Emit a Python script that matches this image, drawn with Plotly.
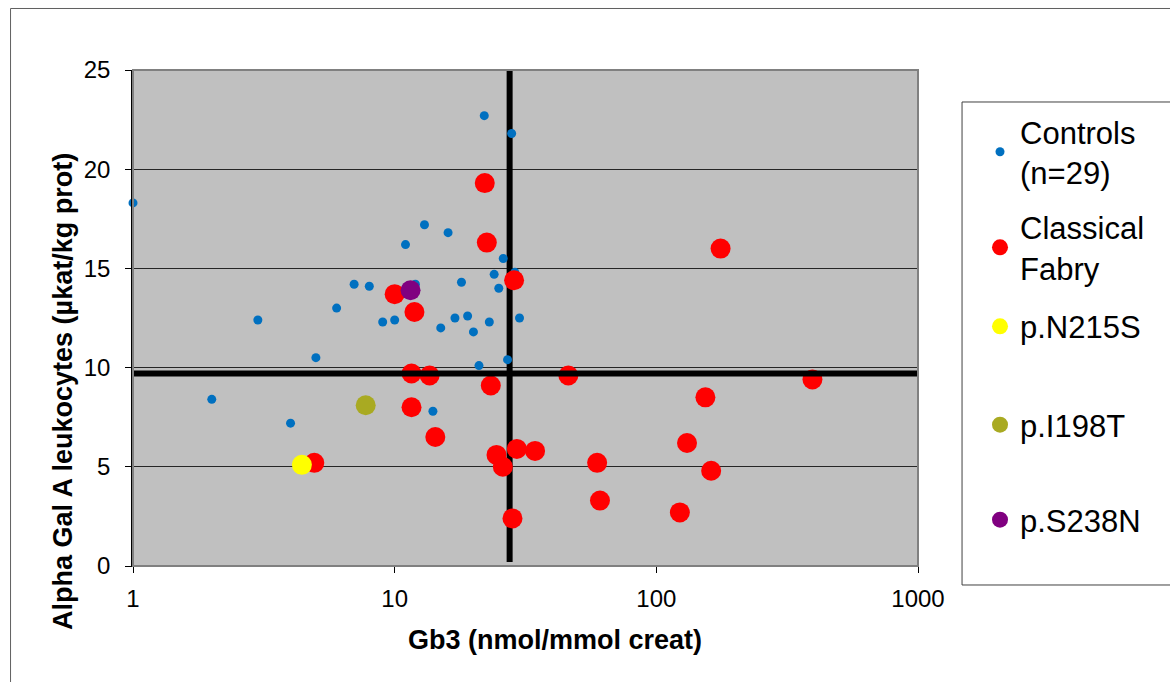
import plotly.graph_objects as go

# ---------------- data ----------------
controls_gb3 = [1, 2, 3, 4, 5, 6, 7, 8, 9, 10, 11, 12, 13, 14, 15,
                16, 17, 18, 19, 20, 21, 22, 23, 24, 25, 26, 27, 28, 28.8, 30]
controls_alpha = [18.3, 8.4, 12.4, 7.2, 10.5, 13.0, 14.2, 14.1, 12.3, 12.4, 16.2, 14.2, 17.2, 7.8, 12.0,
                  16.8, 12.5, 14.3, 12.6, 11.8, 10.1, 22.7, 12.3, 14.7, 14.0, 15.5, 10.4, 21.8, 14.8, 12.5]

fabry_gb3 = [22.1, 22.5, 28.6, 10.0, 11.9, 11.6, 13.6, 23.3, 11.6, 14.3, 4.93, 24.5, 25.9,
             29.3, 34.4, 28.2, 176, 46.1, 395, 154, 131, 162, 59.4, 60.9, 123]
fabry_alpha = [19.3, 16.3, 14.4, 13.7, 12.8, 9.7, 9.6, 9.1, 8.0, 6.5, 5.2, 5.6, 5.0,
               5.9, 5.8, 2.4, 16.0, 9.6, 9.4, 8.5, 6.2, 4.8, 5.2, 3.3, 2.7]

n215s_gb3, n215s_alpha = [4.42], [5.1]
i198t_gb3, i198t_alpha = [7.75], [8.1]
s238n_gb3, s238n_alpha = [11.5], [13.9]

cutoff_gb3 = 27.5           # vertical reference line (Gb3)
cutoff_alpha = 9.7          # horizontal reference line (alpha Gal A)
vline_y_span = [0.2, 25]
hline_x_span = [1, 1000]

x_tickvals = [1, 10, 100, 1000]
x_ticktext = ["1", "10", "100", "1000"]
y_tickvals = [0, 5, 10, 15, 20, 25]

FONT = "Liberation Sans, Arial, sans-serif"

fig = go.Figure()

# vertical cut-off line (under markers)
fig.add_trace(go.Scatter(x=[cutoff_gb3, cutoff_gb3], y=vline_y_span, mode="lines",
                         line=dict(color="black", width=6), showlegend=False, hoverinfo="skip"))

fig.add_trace(go.Scatter(x=controls_gb3, y=controls_alpha, mode="markers", name="Controls<br>(n=29)",
                         marker=dict(color="#0070C0", size=9), cliponaxis=False, legend="legend"))
fig.add_trace(go.Scatter(x=fabry_gb3, y=fabry_alpha, mode="markers", name="Classical<br>Fabry",
                         marker=dict(color="#FF0000", size=20), legend="legend2"))
fig.add_trace(go.Scatter(x=n215s_gb3, y=n215s_alpha, mode="markers", name="p.N215S",
                         marker=dict(color="#FFFF00", size=20), legend="legend3"))
fig.add_trace(go.Scatter(x=i198t_gb3, y=i198t_alpha, mode="markers", name="p.I198T",
                         marker=dict(color="#A9AA22", size=20), legend="legend4"))
fig.add_trace(go.Scatter(x=s238n_gb3, y=s238n_alpha, mode="markers", name="p.S238N",
                         marker=dict(color="#800080", size=20), legend="legend5"))

# horizontal cut-off line (over markers)
fig.add_trace(go.Scatter(x=hline_x_span, y=[cutoff_alpha, cutoff_alpha], mode="lines",
                         line=dict(color="black", width=6), showlegend=False, hoverinfo="skip"))

def leg(y):
    return dict(x=1.079, xanchor="left", y=y, yanchor="middle",
                bgcolor="rgba(0,0,0,0)", borderwidth=0,
                font=dict(family=FONT, size=31, color="black"))

fig.update_layout(
    width=1170, height=682,
    margin=dict(l=133, r=252, t=70, b=116),
    paper_bgcolor="white",
    plot_bgcolor="#C0C0C0",
    font=dict(family=FONT, color="black"),
    legend=leg(0.8347),
    legend2=leg(0.6421),
    legend3=leg(0.4825),
    legend4=leg(0.2843),
    legend5=leg(0.0927),
    xaxis=dict(type="log", range=[0, 3], tickvals=x_tickvals, ticktext=x_ticktext,
               showgrid=False, zeroline=False, showline=True, linecolor="black", linewidth=1,
               ticks="outside", ticklen=6, tickcolor="black",
               tickfont=dict(size=24, family=FONT), ticklabelstandoff=5),
    yaxis=dict(range=[0, 25], tickvals=y_tickvals, showgrid=True, gridcolor="#262626", gridwidth=1,
               zeroline=False, showline=True, linecolor="black", linewidth=1.5,
               ticks="outside", ticklen=6, tickcolor="black",
               tickfont=dict(size=24, family=FONT), ticklabelstandoff=10),
    annotations=[
        dict(text="Gb3 (nmol/mmol creat)", xref="paper", yref="paper", x=0.5376, y=-0.1492,
             xanchor="center", yanchor="middle", showarrow=False,
             font=dict(family=FONT, size=27, weight="bold", color="black")),
        dict(text="Alpha Gal A leukocytes (µkat/kg prot)", xref="paper", yref="paper",
             x=-0.0892, y=0.3528, xanchor="center", yanchor="middle", textangle=-90, showarrow=False,
             font=dict(family=FONT, size=27, weight="bold", color="black")),
    ],
    shapes=[
        # plot-area border
        dict(type="rect", xref="paper", yref="paper", x0=0, x1=1, y0=0, y1=1,
             line=dict(color="#808080", width=2), layer="above"),
        # legend box
        dict(type="rect", xref="paper", yref="paper", x0=1.0561, x1=1.33, y0=-0.0383, y1=0.9355,
             line=dict(color="#404040", width=1)),
        # chart-area frame (partially visible)
        dict(type="rect", xref="paper", yref="paper", x0=-0.156, x1=1.36, y0=-0.3, y1=1.124,
             line=dict(color="#606060", width=1)),
    ],
)

fig.write_html("out.html")
